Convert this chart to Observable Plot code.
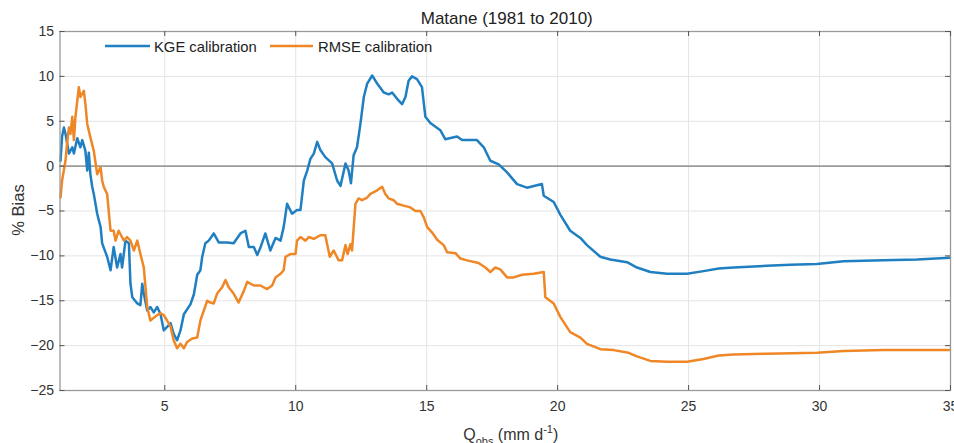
<!DOCTYPE html>
<html><head><meta charset="utf-8">
<script src="https://cdn.jsdelivr.net/npm/d3@7"></script>
<script src="https://cdn.jsdelivr.net/npm/@observablehq/plot@0.6"></script>
<style>body{margin:0;background:#fff} svg{display:block}</style>
</head><body><div id="chart"></div>
<script>
const titleText = "Matane (1981 to 2010)";
const seriesNames = ["KGE calibration", "RMSE calibration"];
const seriesColors = ["#1f7fc1", "#ef8726"];
const xTicks = [5, 10, 15, 20, 25, 30, 35];
const yTicks = [-25, -20, -15, -10, -5, 0, 5, 10, 15];

const kgeQ = [1.02,1.08,1.15,1.21,1.34,1.47,1.53,1.66,1.78,1.85,
1.97,2.04,2.10,2.16,2.23,2.29,2.42,2.55,2.61,2.80,
2.93,3.05,3.18,3.31,3.37,3.50,3.63,3.69,3.76,3.95,
4.07,4.14,4.20,4.33,4.45,4.58,4.71,4.84,4.96,5.09,
5.22,5.34,5.47,5.60,5.73,5.98,6.11,6.24,6.36,6.43,
6.55,6.68,6.87,7.06,7.38,7.63,7.89,8.08,8.21,8.40,
8.53,8.65,8.84,9.03,9.23,9.42,9.54,9.67,9.86,10.05,
10.18,10.31,10.44,10.56,10.69,10.82,10.94,11.13,11.39,11.58,
11.71,11.90,12.02,12.11,12.21,12.34,12.47,12.60,12.73,12.92,
13.11,13.36,13.55,13.68,13.87,14.06,14.19,14.31,14.44,14.63,
14.82,14.95,15.14,15.52,15.71,16.16,16.35,16.92,17.18,17.43,
17.75,18.07,18.45,18.83,19.40,19.47,19.85,20.10,20.48,20.87,
21.12,21.63,22.01,22.65,23.03,23.54,24.18,24.94,25.57,26.15,
26.72,27.99,28.88,29.90,30.92,32.44,33.72,34.98];
const kgeBias = [0.6,3.3,4.3,3.6,1.4,2.1,1.4,3.1,2.1,2.9,
1.7,-0.5,1.5,-0.9,-2.3,-3.1,-5.3,-6.8,-8.6,-10.1,
-11.6,-9.0,-11.3,-9.8,-11.3,-8.3,-8.6,-13.1,-14.6,-15.3,
-15.5,-13.1,-14.2,-16.1,-15.7,-16.3,-15.7,-16.5,-18.3,-17.9,
-17.5,-18.7,-19.4,-18.3,-16.5,-15.4,-14.3,-12.1,-11.6,-10.1,
-8.6,-8.3,-7.5,-8.5,-8.5,-8.6,-7.5,-7.2,-9.0,-9.0,
-9.9,-9.1,-7.5,-9.4,-8.0,-8.3,-6.8,-4.2,-5.3,-4.9,
-4.9,-1.6,-0.5,0.8,1.4,2.7,1.8,1.0,0.3,-1.6,
-2.2,0.3,-0.5,-1.9,1.2,2.1,4.7,7.7,9.2,10.1,
9.2,8.2,8.0,8.2,7.5,6.9,7.7,9.5,10.0,9.7,
8.8,5.5,4.8,4.0,3.0,3.3,2.9,2.9,2.1,0.6,
0.2,-0.7,-2.0,-2.4,-2.0,-3.3,-4.0,-5.4,-7.2,-8.0,
-8.8,-10.1,-10.4,-10.7,-11.3,-11.8,-12.0,-12.0,-11.7,-11.4,
-11.3,-11.1,-11.0,-10.9,-10.6,-10.5,-10.4,-10.2];

const rmseQ = [1.02,1.08,1.21,1.27,1.34,1.40,1.47,1.53,1.59,1.72,
1.78,1.91,1.97,2.04,2.16,2.29,2.42,2.55,2.61,2.67,
2.80,2.93,3.05,3.12,3.24,3.44,3.56,3.69,3.82,3.95,
4.07,4.20,4.33,4.45,4.71,4.84,4.96,5.09,5.22,5.34,
5.47,5.60,5.73,5.85,6.05,6.24,6.36,6.49,6.62,6.74,
6.87,7.00,7.19,7.32,7.44,7.63,7.82,8.02,8.15,8.40,
8.65,8.91,9.10,9.23,9.42,9.54,9.61,9.80,9.99,10.05,
10.18,10.37,10.50,10.69,10.94,11.13,11.30,11.45,11.64,11.77,
11.90,11.98,12.09,12.15,12.28,12.40,12.53,12.73,12.85,13.11,
13.30,13.42,13.55,13.74,13.87,14.12,14.38,14.57,14.76,14.89,
15.02,15.21,15.40,15.65,15.78,16.10,16.29,16.54,16.98,17.24,
17.43,17.62,17.81,18.07,18.32,18.64,19.08,19.47,19.53,19.85,
20.10,20.48,20.87,21.12,21.63,22.14,22.71,23.03,23.54,24.18,
24.94,25.57,26.15,26.72,27.99,29.90,30.92,32.44,34.98];
const rmseBias = [-3.5,-1.6,0.6,2.5,4.3,3.6,5.5,2.9,5.5,8.8,
7.7,8.4,6.9,4.7,3.2,1.7,-0.9,-0.1,-1.6,-2.3,
-3.1,-7.2,-7.2,-8.3,-7.2,-8.3,-7.9,-8.3,-9.4,-8.3,
-9.8,-11.3,-15.7,-17.2,-16.6,-16.4,-16.6,-17.2,-17.9,-19.4,
-20.3,-19.8,-20.3,-19.6,-19.2,-19.1,-17.2,-16.1,-15.0,-15.2,
-15.3,-14.2,-13.5,-12.7,-13.5,-14.2,-15.2,-13.9,-12.9,-13.3,
-13.3,-13.7,-13.3,-12.4,-12.0,-11.6,-10.1,-9.8,-9.8,-8.3,
-7.9,-8.3,-7.9,-8.1,-7.7,-7.7,-10.1,-9.4,-10.5,-10.5,
-8.8,-9.8,-8.7,-9.4,-4.2,-3.6,-3.8,-3.5,-3.1,-2.7,
-2.3,-3.1,-3.6,-3.8,-4.2,-4.4,-4.6,-5.0,-5.0,-5.7,
-6.8,-7.4,-8.2,-8.8,-9.6,-9.7,-10.3,-10.5,-10.8,-11.3,
-11.8,-11.3,-11.5,-12.4,-12.4,-12.1,-12.0,-11.8,-14.6,-15.3,
-16.8,-18.5,-19.1,-19.8,-20.4,-20.5,-20.8,-21.2,-21.7,-21.8,
-21.8,-21.5,-21.1,-21.0,-20.9,-20.8,-20.6,-20.5,-20.5];

const W = 954, H = 443, mL = 59.5, mR = 4, mT = 31, mB = 53;
const innerW = W - mL - mR, innerH = H - mT - mB;
const font = "'Liberation Sans', Arial, Helvetica, sans-serif";

const kge = kgeQ.map((q, i) => ({q, b: kgeBias[i]}));
const rmse = rmseQ.map((q, i) => ({q, b: rmseBias[i]}));

const plot = Plot.plot({
  width: W, height: H,
  marginLeft: mL, marginRight: mR, marginTop: mT, marginBottom: mB,
  style: {fontFamily: font, fontSize: "14px", color: "#333", background: "#fff"},
  x: {domain: [1, 35]},
  y: {domain: [-25, 15]},
  marks: [
    Plot.gridX(xTicks, {stroke: "#e4e4e4", strokeOpacity: 1}),
    Plot.gridY(yTicks, {stroke: "#e4e4e4", strokeOpacity: 1}),
    Plot.ruleY([0], {stroke: "#9c9c9c", strokeWidth: 1.6}),
    Plot.line(kge, {x: "q", y: "b", stroke: seriesColors[0], strokeWidth: 2.5, strokeLinejoin: "round"}),
    Plot.line(rmse, {x: "q", y: "b", stroke: seriesColors[1], strokeWidth: 2.5, strokeLinejoin: "round"}),
    Plot.frame({stroke: "#9a9a9a", strokeWidth: 1.3}),
    Plot.ruleX(xTicks, {insetTop: innerH - 5, stroke: "#555"}),
    Plot.ruleX(xTicks, {insetBottom: innerH - 5, stroke: "#555"}),
    Plot.ruleY(yTicks, {insetRight: innerW - 5, stroke: "#555"}),
    Plot.ruleY(yTicks, {insetLeft: innerW - 5, stroke: "#555"}),
    Plot.axisX({ticks: xTicks, tickSize: 0, tickPadding: 11, label: null}),
    Plot.axisY({ticks: yTicks, tickSize: 0, tickPadding: 6, label: null})
  ]
});

document.getElementById("chart").append(plot);
const svg = d3.select(plot);
const cx = mL + innerW / 2;

svg.append("text").attr("x", cx + 2).attr("y", 24).attr("text-anchor", "middle")
  .attr("font-family", font).attr("font-size", 17).attr("fill", "#222").text(titleText);

svg.append("text").attr("transform", "translate(24,210) rotate(-90)").attr("text-anchor", "middle")
  .attr("font-family", font).attr("font-size", 16.5).attr("fill", "#333").text("% Bias");

const xl = svg.append("text").attr("x", cx + 6).attr("y", 440).attr("text-anchor", "middle")
  .attr("font-family", font).attr("font-size", 16).attr("fill", "#333");
xl.append("tspan").text("Q");
xl.append("tspan").attr("font-size", 11).attr("dy", 5).text("obs");
xl.append("tspan").attr("dy", -5).text(" (mm d");
xl.append("tspan").attr("font-size", 11).attr("dy", -7).text("-1");
xl.append("tspan").attr("dy", 7).text(")");

const legend = [
  {x1: 105, x2: 150, tx: 154, name: seriesNames[0], color: seriesColors[0]},
  {x1: 270, x2: 313, tx: 318, name: seriesNames[1], color: seriesColors[1]}
];
for (const l of legend) {
  svg.append("line").attr("x1", l.x1).attr("x2", l.x2).attr("y1", 46).attr("y2", 46)
    .attr("stroke", l.color).attr("stroke-width", 2.5);
  svg.append("text").attr("x", l.tx).attr("y", 51.5).attr("text-anchor", "start")
    .attr("font-family", font).attr("font-size", 14.8).attr("fill", "#222").text(l.name);
}
</script>
</body></html>
